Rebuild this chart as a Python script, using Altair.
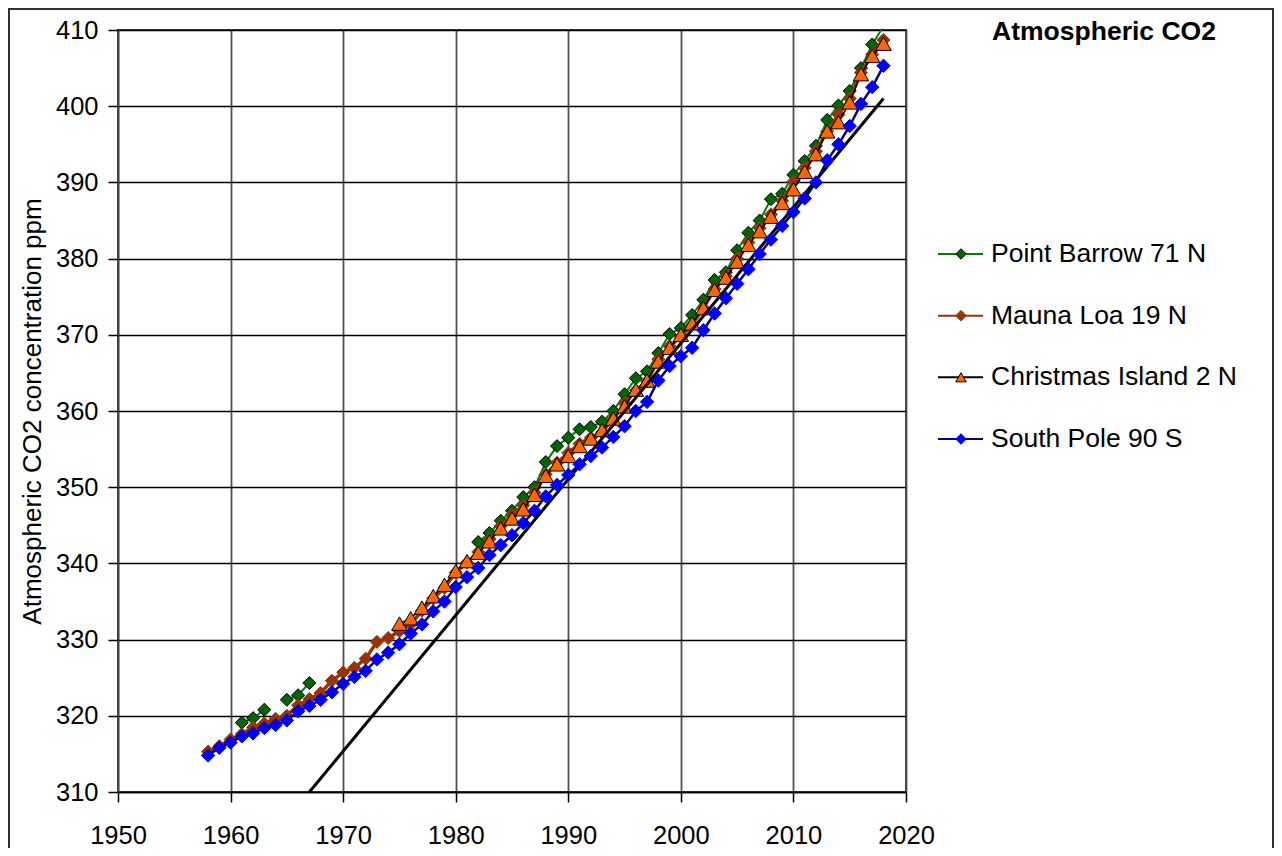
import altair as alt
import pandas as pd

FONT = "Liberation Sans"

# ---------------- data ----------------
series_names = ["Point Barrow 71 N", "Mauna Loa 19 N", "Christmas Island 2 N", "South Pole 90 S"]

pb_years = [1961, 1962, 1963, 1965, 1966, 1967] + list(range(1982, 2019))
pb_vals = [319.1, 319.7, 320.8, 322.1, 322.7, 324.3,
           342.8, 344.0, 345.6, 346.9, 348.7, 350.0, 353.3, 355.4,
           356.5, 357.6, 357.9, 358.6, 360.0, 362.2, 364.3, 365.2, 367.6, 370.1,
           370.9, 372.6, 374.6, 377.2, 378.2, 381.1, 383.4, 385.0, 387.8, 388.5,
           391.0, 392.8, 394.8, 398.2, 400.1, 402.0, 405.0, 408.1, 410.5]

ml_years = list(range(1958, 2019))
ml_vals = [315.3, 316.0,
           316.9, 317.6, 318.5, 319.0, 319.6, 320.0, 321.4, 322.2, 323.0, 324.6,
           325.7, 326.3, 327.5, 329.7, 330.2, 331.1, 332.0, 333.8, 335.4, 336.8,
           338.8, 340.1, 341.5, 343.2, 344.9, 346.4, 347.6, 349.3, 351.7, 353.2,
           354.5, 355.7, 356.5, 357.2, 359.0, 361.0, 362.7, 363.9, 366.8, 368.5,
           369.7, 371.3, 373.5, 376.0, 377.7, 380.0, 382.1, 384.0, 385.8, 387.6,
           390.1, 391.9, 394.1, 396.7, 398.9, 401.0, 404.4, 406.8, 408.7]

ci_years = list(range(1975, 2019))
ci_vals = [332.1, 332.8, 334.2, 335.7, 337.2,
           339.0, 340.3, 341.4, 342.9, 344.6, 345.9, 347.1, 349.0, 351.5, 353.0,
           354.1, 355.4, 356.4, 357.5, 359.0, 360.6, 362.8, 364.0, 366.5, 368.3,
           370.0, 371.5, 373.5, 375.9, 377.5, 379.6, 381.8, 383.6, 385.5, 387.3,
           389.1, 391.4, 393.7, 396.7, 397.9, 400.5, 404.2, 406.6, 408.2]

sp_years = list(range(1958, 2019))
sp_vals = [314.8, 315.8,
           316.5, 317.3, 317.7, 318.4, 318.8, 319.4, 320.6, 321.3, 322.1, 323.1,
           324.2, 325.1, 325.9, 327.4, 328.3, 329.4, 330.8, 332.0, 333.7, 335.0,
           336.9, 338.2, 339.4, 341.1, 342.4, 343.7, 345.3, 346.9, 348.8, 350.3,
           351.6, 353.0, 354.1, 355.2, 356.6, 358.0, 360.0, 361.2, 364.0, 365.9,
           367.2, 368.3, 370.6, 372.8, 374.8, 376.7, 378.6, 380.6, 382.5, 384.3,
           386.1, 387.9, 390.0, 392.9, 395.0, 397.4, 400.3, 402.5, 405.3]

trend_years = [1967, 2018]
trend_vals = [310.0, 401.0]

x_ticks = [1950, 1960, 1970, 1980, 1990, 2000, 2010, 2020]
y_ticks = [310, 320, 330, 340, 350, 360, 370, 380, 390, 400, 410]

chart_title = "Atmospheric CO2"
y_title = "Atmospheric CO2 concentration ppm"

# ---------------- styles ----------------
line_colors = ["#008000", "#993300", "#000000", "#000080"]
line_widths = [2, 3.5, 1.5, 2.5]
marker_shapes = ["diamond", "diamond", "triangle-up", "diamond"]
marker_fills = ["#006600", "#993300", "#FF6600", "#0000FF"]
marker_strokes = ["#000000", "#993300", "#000000", "#0000FF"]
marker_sizes = [170, 170, 240, 180]


def long_rows(name, years, vals):
    rows = []
    seg = 0
    prev = None
    for y, v in zip(years, vals):
        if prev is not None and y - prev > 1:
            seg += 1
        rows.append({"series": name, "year": y, "value": v, "seg": f"{name}-{seg}"})
        prev = y
    return rows


rows = []
for nm, ys, vs in zip(series_names,
                      [pb_years, ml_years, ci_years, sp_years],
                      [pb_vals, ml_vals, ci_vals, sp_vals]):
    rows += long_rows(nm, ys, vs)
df = pd.DataFrame(rows)
trend_df = pd.DataFrame({"year": trend_years, "value": trend_vals})

x_enc = alt.X("year:Q",
              scale=alt.Scale(domain=[1950, 2020], nice=False, zero=False),
              axis=alt.Axis(values=x_ticks, format="d", title=None,
                            labelPadding=21, labelFlush=False,
                            gridColor="#505050", gridWidth=1.8,
                            domainColor="#000000"))
y_enc = alt.Y("value:Q",
              scale=alt.Scale(domain=[310, 410], nice=False, zero=False),
              axis=alt.Axis(values=y_ticks, format="d", title=y_title,
                            labelPadding=10, labelFlush=False,
                            gridColor="#000000", gridWidth=1.5,
                            domainColor="#404040",
                            titleX=-86, titleY=381, titleAngle=270,
                            titleAlign="center", titleBaseline="middle",
                            titleFontWeight="normal"))


def series_layers(i):
    nm = series_names[i]
    base = alt.Chart(df).transform_filter(alt.datum.series == nm)
    ln = base.mark_line(color=line_colors[i], strokeWidth=line_widths[i], clip=True).encode(
        x=x_enc, y=y_enc, detail="seg:N", order="year:Q")
    pt = base.transform_filter(alt.datum.value <= 410).mark_point(
        shape=marker_shapes[i], filled=True, size=marker_sizes[i],
        fill=marker_fills[i], stroke=marker_strokes[i], strokeWidth=1,
        opacity=1, clip=True).encode(x=x_enc, y=y_enc)
    return [ln, pt]


trend = alt.Chart(trend_df).mark_line(color="#000000", strokeWidth=3, clip=True).encode(
    x=x_enc, y=y_enc)

main_layers = []
main_layers += series_layers(0)
main_layers += series_layers(1)
main_layers += series_layers(2)
main_layers.append(trend)
main_layers += series_layers(3)
main = alt.layer(*main_layers)

# ---------------- legend (drawn) ----------------
leg_df = pd.DataFrame({"name": series_names})
leg_y = alt.Y("name:N", scale=alt.Scale(type="point", domain=series_names, range=[224, 409], padding=0),
              axis=None)
leg_rule = alt.Chart(leg_df).mark_rule().encode(
    x=alt.value(820), x2=alt.value(865), y=leg_y,
    color=alt.Color("name:N", scale=alt.Scale(domain=series_names, range=line_colors), legend=None),
    strokeWidth=alt.value(2))
leg_pt = alt.Chart(leg_df).mark_point(filled=True, opacity=1, strokeWidth=1).encode(
    x=alt.value(843), y=leg_y,
    shape=alt.Shape("name:N", scale=alt.Scale(domain=series_names, range=marker_shapes), legend=None),
    fill=alt.Fill("name:N", scale=alt.Scale(domain=series_names, range=marker_fills), legend=None),
    stroke=alt.Stroke("name:N", scale=alt.Scale(domain=series_names, range=marker_strokes), legend=None),
    size=alt.Size("name:N", scale=alt.Scale(domain=series_names, range=[110, 110, 160, 110]), legend=None))
leg_text = alt.Chart(leg_df).mark_text(align="left", baseline="middle", font=FONT,
                                       fontSize=26.5, color="#000000").encode(
    x=alt.value(873), y=leg_y, text="name:N")
legend = alt.layer(leg_rule, leg_pt, leg_text)

# ---------------- title & frame ----------------
title_df = pd.DataFrame({"t": [chart_title]})
title = alt.Chart(title_df).mark_text(font=FONT, fontSize=26.5, fontWeight="bold",
                                      align="center", baseline="middle", color="#000000").encode(
    x=alt.value(986), y=alt.value(2), text="t:N")
frame = alt.Chart(title_df).mark_rect(filled=False, stroke="#303030", strokeWidth=2, clip=False).encode(
    x=alt.value(-109), x2=alt.value(1155), y=alt.value(-21), y2=alt.value(900))

chart = alt.layer(frame, main, legend, title).resolve_scale(y="independent").properties(
    width=788, height=762,
    autosize=alt.AutoSizeParams(type="none"),
    padding={"left": 110, "top": 22, "right": 368, "bottom": 56},
).configure_view(stroke="#404040", strokeWidth=2).configure_axis(
    labelFont=FONT, titleFont=FONT, labelFontSize=25.5, titleFontSize=26,
    labelColor="#000000", titleColor="#000000", tickColor="#000000",
    tickSize=10, tickWidth=1.5, domainWidth=1.5, gridOpacity=1,
)

chart.save("out.html", embed_options={"renderer": "svg", "actions": False})
